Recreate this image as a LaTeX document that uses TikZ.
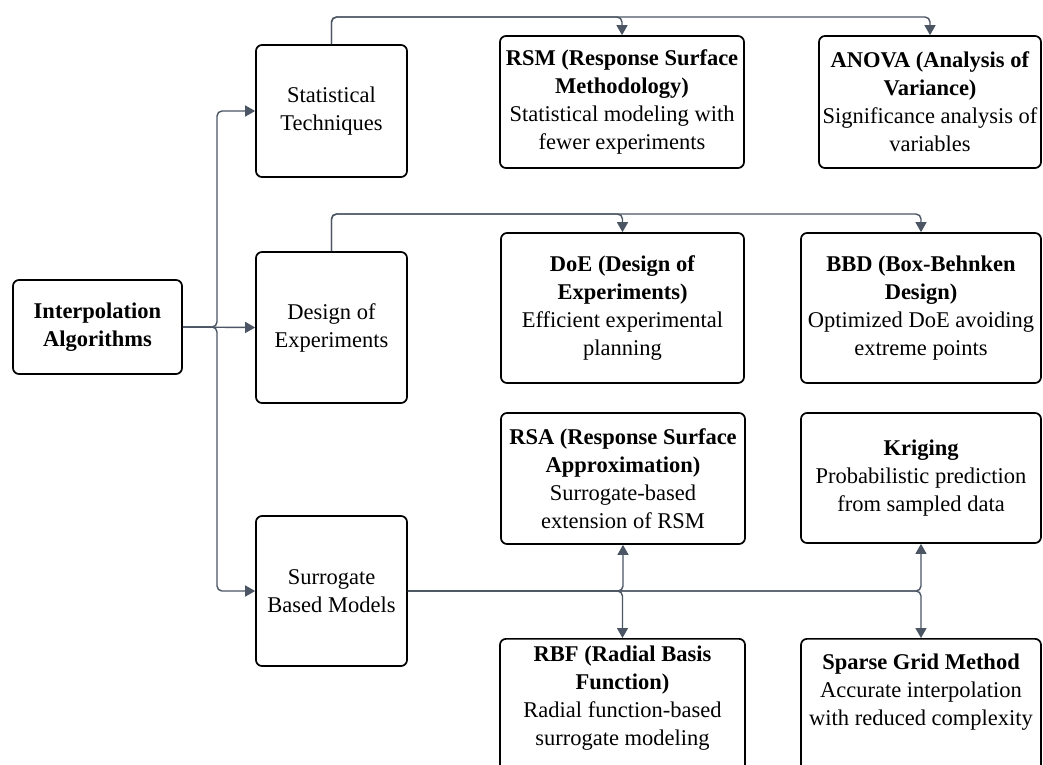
\documentclass[tikz,border=0pt]{standalone}
\usepackage{fontspec}
\setmainfont{LiberationSerif}[Extension=.ttf, UprightFont=*-Regular, BoldFont=*-Bold, ItalicFont=*-Italic, BoldItalicFont=*-BoldItalic]
\usetikzlibrary{arrows.meta}
\definecolor{linec}{HTML}{4B5563}
\begin{document}
\begin{tikzpicture}[x=1pt,y=-1pt]
\tikzset{
  box/.style={draw=black, line width=1.7pt, rounded corners=6pt, align=center,
    inner sep=0pt, font=\fontsize{22.5}{28}\selectfont},
  txt/.style={align=center, inner sep=0pt, font=\fontsize{22.5}{28}\selectfont},
  conn/.style={draw=linec, line width=1.4pt, rounded corners=5pt,
    -{Triangle[length=10pt,width=11pt]}, color=linec},
}
\useasboundingbox (0,0) rectangle (1043,764);
\clip (0,0) rectangle (1043,764);

% root and the three families
\node[box, minimum width=169, minimum height=94] (interp) at (97.5,327)
  {\textbf{Interpolation}\\\textbf{Algorithms}};
\node[box, minimum width=151, minimum height=132] (stat) at (331.5,111)
  {Statistical\\Techniques};
\node[box, minimum width=151, minimum height=151] (design) at (331.5,327.5)
  {Design of\\Experiments};
\node[box, minimum width=151, minimum height=150] (surr) at (331.5,591)
  {Surrogate\\Based Models};

% methods
\node[box, minimum width=244, minimum height=132] (rsm) at (622,102)
  {\textbf{RSM (Response Surface}\\\textbf{Methodology)}\\Statistical modeling with\\fewer experiments};
\node[box, minimum width=222, minimum height=132] (anova) at (930,102)
  {\textbf{ANOVA (Analysis of}\\\textbf{Variance)}\\Significance analysis of\\variables};
\node[box, minimum width=243, minimum height=150] (doe) at (622.5,308)
  {\textbf{DoE (Design of}\\\textbf{Experiments)}\\Efficient experimental\\planning};
\node[box, minimum width=240, minimum height=150] (bbd) at (921,308)
  {\textbf{BBD (Box-Behnken}\\\textbf{Design)}\\Optimized DoE avoiding\\extreme points};
\node[box, minimum width=244, minimum height=131] (rsa) at (623,478.5)
  {\textbf{RSA (Response Surface}\\\textbf{Approximation)}\\Surrogate-based\\extension of RSM};
\node[box, minimum width=240, minimum height=130] (krig) at (921,478)
  {\textbf{Kriging}\\Probabilistic prediction\\from sampled data};
\node[box, minimum width=245, minimum height=150, anchor=north] (rbf) at (622.5,638) {};
\node[txt] (rbftext) at (622.5,698)
  {\textbf{RBF (Radial Basis}\\\textbf{Function)}\\Radial function-based\\surrogate modeling};
\node[box, minimum width=240, minimum height=150, anchor=north] (sparse) at (921,638) {};
\node[txt] (sparsetext) at (921,692)
  {\textbf{Sparse Grid Method}\\Accurate interpolation\\with reduced complexity};

% routing points
\coordinate (split) at (217,327);
\coordinate (topbus) at (0,17);
\coordinate (midbus) at (0,214);

% root to families
\draw[conn] (interp.east) -- (interp.east -| split) |- (stat.west);
\draw[conn] (interp.east) -- (design.west);
\draw[conn] (interp.east) -- (interp.east -| split) |- (surr.west);

% statistical techniques
\draw[conn] (stat.north) -- (stat.north |- topbus) -- (rsm.north |- topbus) -- (rsm.north);
\draw[conn] (stat.north) -- (stat.north |- topbus) -- (anova.north |- topbus) -- (anova.north);

% design of experiments
\draw[conn] (design.north) -- (design.north |- midbus) -- (doe.north |- midbus) -- (doe.north);
\draw[conn] (design.north) -- (design.north |- midbus) -- (bbd.north |- midbus) -- (bbd.north);

% surrogate models
\draw[conn] (surr.east) -| (rsa.south);
\draw[conn] (surr.east) -| (rbf.north);
\draw[conn] (surr.east) -| (krig.south);
\draw[conn] (surr.east) -| (sparse.north);
\end{tikzpicture}
\end{document}
